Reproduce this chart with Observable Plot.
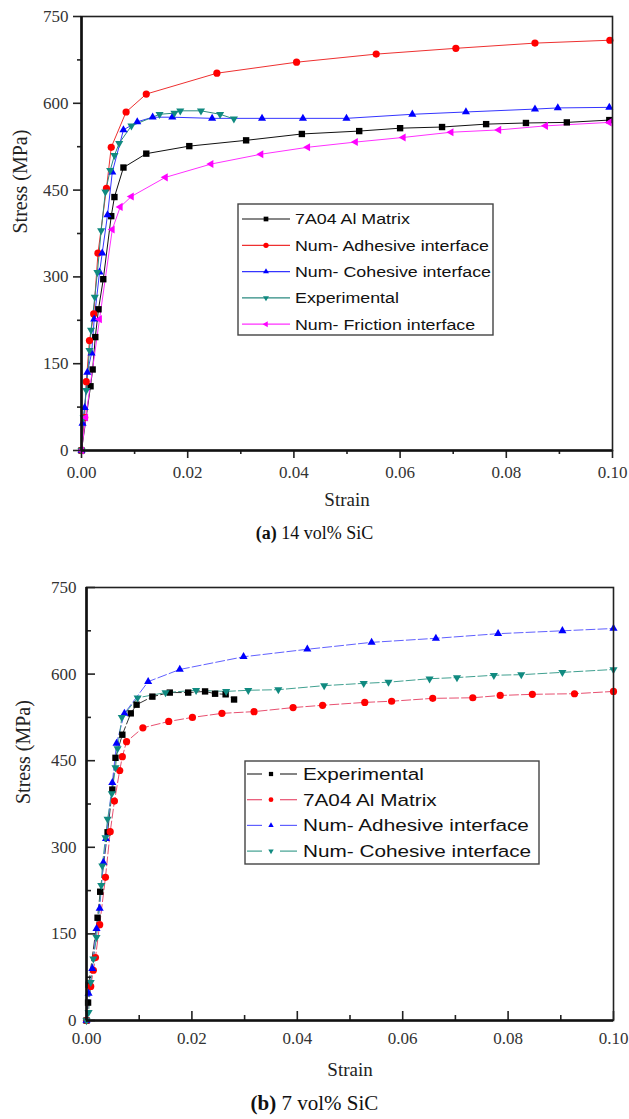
<!DOCTYPE html>
<html><head><meta charset="utf-8">
<script src="https://cdn.jsdelivr.net/npm/d3@7"></script>
<script src="https://cdn.jsdelivr.net/npm/@observablehq/plot@0.6"></script>
<style>
body{margin:0;background:#fff;}
#wrap{position:relative;width:629px;height:1119px;background:#fff;overflow:hidden;}
#wrap > svg{position:absolute;left:0;}
.cap{position:absolute;left:0;width:629px;text-align:center;font-family:"Liberation Serif",serif;color:#111;}
</style></head><body><div id="wrap"></div>
<script>
// ---------- axis ticks ----------
const xTicks = [0, 0.02, 0.04, 0.06, 0.08, 0.10];
const xMinor = [0.01, 0.03, 0.05, 0.07, 0.09];
const yTicks = [0, 150, 300, 450, 600, 750];
const yMinor = [75, 225, 375, 525, 675];

// ---------- (a) 14 vol% SiC : [strain, stress MPa] ----------
const namesA = ["7A04 Al Matrix", "Num- Adhesive interface", "Num- Cohesive interface", "Experimental", "Num- Friction interface"];
const a_matrix = [[0,0],[0.0017,111],[0.0021,140],[0.0026,196],[0.0032,244],[0.0041,296],[0.0056,405],[0.0062,438],[0.0079,489],[0.0122,513],[0.0203,526],[0.0310,536],[0.0415,547],[0.0523,552],[0.0600,557],[0.0679,559],[0.0762,564],[0.0837,566],[0.0914,567],[0.0994,571]];
const a_adhesive = [[0,0],[0.0006,57],[0.0009,119],[0.0015,190],[0.0023,236],[0.0031,341],[0.0047,453],[0.0056,524],[0.0084,585],[0.0122,616],[0.0255,652],[0.0405,671],[0.0555,685],[0.0705,695],[0.0854,704],[0.0995,709]];
const a_cohesive = [[0,0],[0.0002,47],[0.0006,74],[0.0011,135],[0.0019,168],[0.0024,227],[0.0034,308],[0.0039,341],[0.0049,407],[0.0058,481],[0.0079,554],[0.0105,568],[0.0134,576],[0.0171,576],[0.0246,574],[0.0340,574],[0.0417,574],[0.0499,574],[0.0623,581],[0.0724,585],[0.0854,590],[0.0897,592],[0.0994,593]];
const a_experimental = [[0,0],[0.0004,57],[0.0009,104],[0.0015,173],[0.0018,208],[0.0025,265],[0.0030,308],[0.0037,380],[0.0045,447],[0.0054,484],[0.0062,510],[0.0071,531],[0.0094,561],[0.0147,581],[0.0175,583],[0.0186,587],[0.0225,587],[0.0261,581],[0.0287,573]];
const a_friction = [[0,0],[0.0008,57],[0.0034,227],[0.0058,382],[0.0073,421],[0.0094,439],[0.0158,472],[0.0244,495],[0.0338,512],[0.0426,524],[0.0516,533],[0.0606,541],[0.0696,550],[0.0786,554],[0.0874,561],[0.0994,567]];

// ---------- (b) 7 vol% SiC ----------
const namesB = ["Experimental", "7A04 Al Matrix", "Num- Adhesive interface", "Num- Cohesive interface"];
const b_experimental = [[0,0],[0.0003,31],[0.0004,62],[0.0021,178],[0.0026,223],[0.0040,326],[0.0049,400],[0.0055,455],[0.0068,495],[0.0084,532],[0.0095,547],[0.0125,561],[0.0158,568],[0.0193,568],[0.0225,570],[0.0244,566],[0.0264,565],[0.0280,556]];
const b_matrix = [[0,0],[0.0008,59],[0.0013,87],[0.0017,109],[0.0025,166],[0.0036,248],[0.0045,327],[0.0053,380],[0.0063,433],[0.0068,457],[0.0076,483],[0.0107,507],[0.0156,518],[0.0201,525],[0.0257,532],[0.0318,535],[0.0392,542],[0.0448,546],[0.0528,551],[0.0579,553],[0.0657,558],[0.0733,559],[0.0785,563],[0.0846,565],[0.0926,566],[0.1000,570]];
const b_adhesive = [[0,0],[0.0004,47],[0.0011,90],[0.0019,159],[0.0025,194],[0.0032,274],[0.0037,315],[0.0049,412],[0.0057,480],[0.0072,532],[0.0117,587],[0.0177,608],[0.0298,630],[0.0419,643],[0.0541,655],[0.0663,662],[0.0781,670],[0.0903,675],[0.1000,679]];
const b_cohesive = [[0,0],[0.0004,14],[0.0008,66],[0.0013,107],[0.0019,144],[0.0028,234],[0.0030,268],[0.0036,317],[0.0040,349],[0.0048,393],[0.0055,438],[0.0059,471],[0.0067,525],[0.0097,559],[0.0150,568],[0.0208,572],[0.0265,570],[0.0307,572],[0.0364,573],[0.0451,580],[0.0526,584],[0.0573,586],[0.0651,592],[0.0703,594],[0.0773,598],[0.0825,599],[0.0903,603],[0.1000,608]];

// ---------- symbols ----------
function tri(angle) {
  return {draw(ctx, size) {
    const R = Math.sqrt(size / Math.PI) * 1.3;
    for (let i = 0; i < 3; i++) {
      const t = angle + i * 2 * Math.PI / 3;
      const x = R * Math.cos(t), y = R * Math.sin(t);
      i ? ctx.lineTo(x, y) : ctx.moveTo(x, y);
    }
    ctx.closePath();
  }};
}
const triUp = tri(-Math.PI / 2), triDown = tri(Math.PI / 2), triLeft = tri(Math.PI);

const seriesA = [
  {name: namesA[0], pts: a_matrix, line: "#111", fill: "#000", sym: d3.symbolSquare},
  {name: namesA[1], pts: a_adhesive, line: "#ee3030", fill: "#ff0000", sym: d3.symbolCircle},
  {name: namesA[2], pts: a_cohesive, line: "#3535ff", fill: "#0000ff", sym: triUp},
  {name: namesA[3], pts: a_experimental, line: "#2a8a80", fill: "#108a80", sym: triDown},
  {name: namesA[4], pts: a_friction, line: "#ff30ff", fill: "#ff00ff", sym: triLeft}
];
const seriesB = [
  {name: namesB[0], pts: b_experimental, line: "#333", fill: "#000", sym: d3.symbolSquare},
  {name: namesB[1], pts: b_matrix, line: "#e85070", fill: "#ff0000", sym: d3.symbolCircle},
  {name: namesB[2], pts: b_adhesive, line: "#6060ff", fill: "#0000ff", sym: triUp},
  {name: namesB[3], pts: b_cohesive, line: "#40a090", fill: "#108a80", sym: triDown}
];

const serif = '"Liberation Serif", "Times New Roman", serif';
const sans = '"Liberation Sans", Arial, sans-serif';

function chart(series, o) {
  const marks = [];
  for (const s of series) {
    marks.push(Plot.line(s.pts, {x: d => d[0], y: d => d[1], stroke: s.line, strokeWidth: 1, strokeDasharray: o.dash}));
  }
  for (const s of series) {
    marks.push(Plot.dot(s.pts, {x: d => d[0], y: d => d[1], symbol: s.sym, r: o.r, fill: s.fill, stroke: "none"}));
  }
  return Plot.plot({
    width: 629, height: o.height,
    marginLeft: o.ml, marginRight: o.mr, marginTop: o.mt, marginBottom: o.mb,
    style: {fontFamily: serif, fontSize: "17px", color: "#222", background: "white"},
    x: {domain: [0, 0.1]},
    y: {domain: [0, 750]},
    marks: [
      ...marks,
      Plot.frame({stroke: "#222", strokeWidth: 1.6}),
      Plot.axisX(xTicks, {tickSize: o.tick, tickPadding: o.padX, tickFormat: d => d.toFixed(2), label: null, strokeWidth: 1.6, fill: "#333", fontSize: 17}),
      Plot.axisX(xMinor, {tickSize: o.tickMinor, tickFormat: () => "", label: null, strokeWidth: 1.6}),
      Plot.axisY(yTicks, {tickSize: o.tick, tickPadding: o.padY, tickFormat: d => String(d), label: null, strokeWidth: 1.6, fill: "#333", fontSize: 17}),
      Plot.axisY(yMinor, {tickSize: o.tickMinor, tickFormat: () => "", label: null, strokeWidth: 1.6}),
      Plot.ruleX([0], {stroke: "#111", strokeWidth: 2.6}),
      Plot.ruleY([0], {stroke: "#111", strokeWidth: 2.6}),
      Plot.text(["Strain"], {frameAnchor: "bottom", dy: 55, fontSize: 19, fill: "#222"}),
      Plot.text(["Stress (MPa)"], {frameAnchor: "left", dx: o.ylx, rotate: -90, fontSize: 20, fill: "#222"})
    ]
  });
}

const wrap = document.getElementById("wrap");

const svgA = chart(seriesA, {height: 520, ml: 81, mr: 17, mt: 16, mb: 70, tick: 8, tickMinor: 4, padX: 7, padY: 5, r: 3.6, ylx: -61});
svgA.style.top = "0px";
wrap.appendChild(svgA);

const svgB = chart(seriesB, {height: 530, ml: 86, mr: 16, mt: 27, mb: 70, tick: -9, tickMinor: -5, padX: 20, padY: 19, r: 3.6, dash: "9,3", ylx: -63});
svgB.style.top = "560px";
wrap.appendChild(svgB);

// ---------- legends ----------
function legend(series, o) {
  const svg = d3.select(wrap).append("svg")
    .attr("width", o.w + 4).attr("height", o.h + 4)
    .style("position", "absolute").style("left", (o.left - 2) + "px").style("top", (o.top - 2) + "px");
  svg.append("rect").attr("x", 2).attr("y", 2).attr("width", o.w).attr("height", o.h)
    .attr("fill", "white").attr("stroke", "#444").attr("stroke-width", 1.4);
  series.forEach((s, i) => {
    const y = 2 + o.y0 + i * o.dy;
    const g = svg.append("g");
    if (o.dashed) {
      g.append("line").attr("x1", 2 + o.lx1).attr("x2", 2 + o.mx - 9).attr("y1", y).attr("y2", y).attr("stroke", s.line).attr("stroke-width", 1.2);
      g.append("line").attr("x1", 2 + o.mx + 9).attr("x2", 2 + o.lx2).attr("y1", y).attr("y2", y).attr("stroke", s.line).attr("stroke-width", 1.2);
    } else {
      g.append("line").attr("x1", 2 + o.lx1).attr("x2", 2 + o.lx2).attr("y1", y).attr("y2", y).attr("stroke", s.line).attr("stroke-width", 1.2);
    }
    g.append("path").attr("transform", `translate(${2 + o.mx},${y})`)
      .attr("d", d3.symbol().type(s.sym).size(o.msize)()).attr("fill", s.fill);
    g.append("text").attr("transform", `translate(${2 + o.tx},${y}) scale(${o.sx},1)`)
      .attr("dy", "0.35em").attr("font-family", sans).attr("font-size", o.fs).attr("fill", "#111")
      .text(s.name);
  });
}
legend(seriesA, {left: 238, top: 204, w: 255, h: 131, y0: 15, dy: 26.3, lx1: 4, lx2: 52, mx: 28, tx: 57, fs: 15.5, sx: 1.15, msize: 22, dashed: false});
legend(seriesB, {left: 245, top: 761, w: 294, h: 103, y0: 13, dy: 25.7, lx1: 2, lx2: 52, mx: 26, tx: 58, fs: 17, sx: 1.22, msize: 18, dashed: true});

// ---------- captions ----------
function caption(top, bold, rest, fs) {
  const d = document.createElement("div");
  d.className = "cap";
  d.style.top = top + "px";
  d.style.fontSize = fs + "px";
  d.innerHTML = `<b>${bold}</b> ${rest}`;
  wrap.appendChild(d);
}
caption(523, "(a)", "14 vol% SiC", 18);
caption(1091, "(b)", "7 vol% SiC", 21);
</script></body></html>
